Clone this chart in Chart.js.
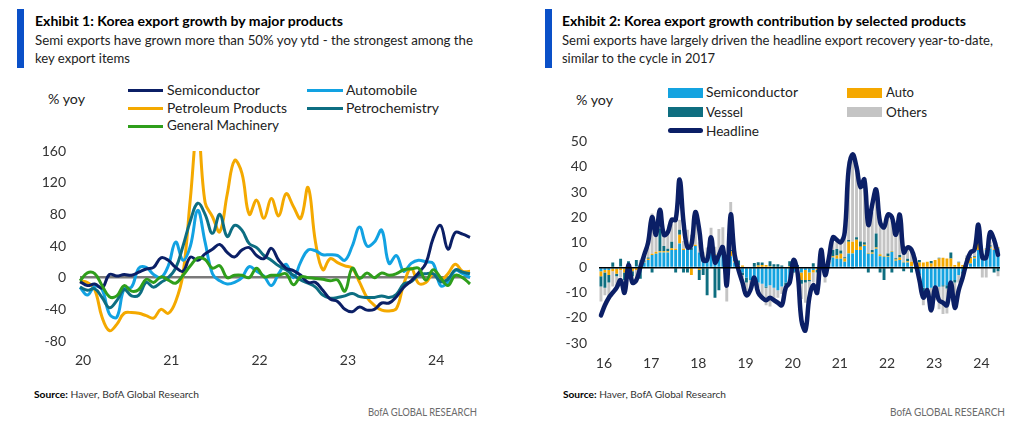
<!DOCTYPE html>
<html><head><meta charset="utf-8">
<script src="https://cdn.jsdelivr.net/npm/chart.js@4.4.1/dist/chart.umd.min.js"></script>
<style>
html,body{margin:0;padding:0;background:#fff;}
body{width:1024px;height:426px;position:relative;overflow:hidden;font-family:Lato,'Open Sans',sans-serif;color:#222;}
.a{position:absolute;white-space:nowrap;line-height:1;}
.fit{display:inline-block;transform-origin:0 50%;}
.bar{position:absolute;background:#0A50C8;}
.ln{position:absolute;height:3px;width:35px;}
.bx{position:absolute;height:10px;width:35px;}
canvas{position:absolute;}
</style></head><body>

<div class="bar" style="left:17px;top:9px;width:7px;height:59px"></div>
<div class="a" style="left:35px;top:15px;font-size:13px;font-weight:700;color:#000"><span class="fit" data-w="308">Exhibit 1: Korea export growth by major products</span></div>
<div class="a" style="left:35px;top:33.6px;font-size:13.5px"><span class="fit" data-w="438">Semi exports have grown more than 50% yoy ytd - the strongest among the</span></div>
<div class="a" style="left:35px;top:51.6px;font-size:13.5px"><span class="fit" data-w="95">key export items</span></div>
<div class="a" style="left:48px;top:91.6px;font-size:14px"><span class="fit" data-w="37">% yoy</span></div>
<div class="ln" style="left:128px;top:88.5px;background:#0B1F66"></div>
<div class="a" style="left:167px;top:82.6px;font-size:14px"><span class="fit" data-w="93">Semiconductor</span></div>
<div class="ln" style="left:128px;top:106.5px;background:#F4A900"></div>
<div class="a" style="left:167px;top:100.9px;font-size:14px"><span class="fit" data-w="120">Petroleum Products</span></div>
<div class="ln" style="left:128px;top:124.5px;background:#2F9E1B"></div>
<div class="a" style="left:167px;top:118.3px;font-size:14px"><span class="fit" data-w="112">General Machinery</span></div>
<div class="ln" style="left:307px;top:88.5px;width:36px;background:#12A2E2"></div>
<div class="a" style="left:346px;top:82.6px;font-size:14px"><span class="fit" data-w="71">Automobile</span></div>
<div class="ln" style="left:307px;top:106.5px;width:36px;background:#0D6E82"></div>
<div class="a" style="left:346px;top:100.9px;font-size:14px"><span class="fit" data-w="93">Petrochemistry</span></div>

<div class="bar" style="left:545px;top:9px;width:7px;height:59px"></div>
<div class="a" style="left:562px;top:15px;font-size:13px;font-weight:700;color:#000"><span class="fit" data-w="404">Exhibit 2: Korea export growth contribution by selected products</span></div>
<div class="a" style="left:562px;top:33.6px;font-size:13.5px"><span class="fit" data-w="431">Semi exports have largely driven the headline export recovery year-to-date,</span></div>
<div class="a" style="left:562px;top:51.6px;font-size:13.5px"><span class="fit" data-w="153">similar to the cycle in 2017</span></div>
<div class="a" style="left:576px;top:92.6px;font-size:14px"><span class="fit" data-w="37">% yoy</span></div>
<div class="bx" style="left:668px;top:87.5px;background:#14A3E0"></div>
<div class="a" style="left:706px;top:85.1px;font-size:14px"><span class="fit" data-w="92">Semiconductor</span></div>
<div class="bx" style="left:668px;top:107.3px;background:#0E6E80"></div>
<div class="a" style="left:706px;top:104.9px;font-size:14px"><span class="fit" data-w="37">Vessel</span></div>
<div class="ln" style="left:668px;top:127.5px;height:5px;border-radius:2.5px;background:#0B1F66"></div>
<div class="a" style="left:706px;top:123.6px;font-size:14px"><span class="fit" data-w="53">Headline</span></div>
<div class="bx" style="left:847px;top:87.5px;background:#F5A800"></div>
<div class="a" style="left:886px;top:85.1px;font-size:14px"><span class="fit" data-w="28">Auto</span></div>
<div class="bx" style="left:847px;top:107.3px;background:#C4C4C4"></div>
<div class="a" style="left:886px;top:104.9px;font-size:14px"><span class="fit" data-w="41">Others</span></div>

<div class="a" style="left:34px;top:390px;font-size:9.5px;color:#333"><span class="fit" data-w="165"><b style="color:#000">Source:</b> Haver, BofA Global Research</span></div>
<div class="a" style="left:368px;top:407px;font-size:10.5px;color:#6b6b6b"><span class="fit" data-w="109">BofA GLOBAL RESEARCH</span></div>
<div class="a" style="left:563px;top:390px;font-size:9.5px;color:#333"><span class="fit" data-w="163"><b style="color:#000">Source:</b> Haver, BofA Global Research</span></div>
<div class="a" style="left:890px;top:407px;font-size:10.5px;color:#6b6b6b"><span class="fit" data-w="115">BofA GLOBAL RESEARCH</span></div>

<canvas id="cL" width="500" height="231" style="left:0;top:140px;width:500px;height:231px"></canvas>
<canvas id="cR" width="500" height="243" style="left:520px;top:130px;width:500px;height:243px"></canvas>

<script>
// ---------- Exhibit 1 data (monthly, % yoy) ----------
const monthsL = ['20-01','20-02','20-03','20-04','20-05','20-06','20-07','20-08','20-09','20-10','20-11','20-12',
'21-01','21-02','21-03','21-04','21-05','21-06','21-07','21-08','21-09','21-10','21-11','21-12',
'22-01','22-02','22-03','22-04','22-05','22-06','22-07','22-08','22-09','22-10','22-11','22-12',
'23-01','23-02','23-03','23-04','23-05','23-06','23-07','23-08','23-09','23-10','23-11','23-12',
'24-01','24-02','24-03','24-04','24-05','24-06'];
const semiconductor = [-5,-10,-8,-13,4,2,4,3,7,11,13,25,22,13,8,26,22,30,36,42,32,26,35,38,28,24,37,22,12,9,3,-6,-6,-16,-27,-30,-40,-43,-37,-41,-40,-32,-32,-24,-12,-4,6,18,50,66,36,57,55,51];
const automobile = [-12,-22,-11,-15,-46,-50,-14,-12,12,13,4,0,15,45,22,40,85,45,5,-4,-8,-6,0,14,8,2,-10,5,17,0,20,35,34,29,29,28,22,40,64,40,45,60,18,28,8,18,22,20,18,-10,-6,9,5,0];
const petroleum = [-4,-6,-15,-50,-67,-59,-45,-44,-45,-48,-51,-40,-45,-30,5,100,190,95,77,58,105,148,132,80,98,75,100,78,106,90,75,114,45,10,24,19,15,12,-6,-25,-35,-41,-42,-39,-8,12,-7,-6,5,-3,5,17,8,8];
const petrochemistry = [-12,-16,-14,-25,-38,-29,-15,-23,-22,-6,-12,-6,0,12,40,72,94,80,56,80,52,66,60,43,38,28,22,15,10,3,-3,-7,-12,-22,-26,-25,-23,-20,-24,-25,-25,-23,-25,-21,-8,-5,3,5,5,-5,-2,10,7,5];
const machinery = [-4,6,5,-10,-24,-23,-10,-17,-15,-2,-6,1,-3,-7,3,15,25,23,12,15,0,3,3,0,12,1,3,3,5,-9,1,0,-1,-2,-4,-3,-17,12,-1,6,0,6,3,5,10,11,12,-3,10,0,-10,3,0,-8];
const yTicksL = [-80,-40,0,40,80,120,160];

// ---------- Exhibit 2 data (monthly, ppt contribution / % yoy) ----------
const monthsR = ['16-01','16-02','16-03','16-04','16-05','16-06','16-07','16-08','16-09','16-10','16-11','16-12',
'17-01','17-02','17-03','17-04','17-05','17-06','17-07','17-08','17-09','17-10','17-11','17-12',
'18-01','18-02','18-03','18-04','18-05','18-06','18-07','18-08','18-09','18-10','18-11','18-12',
'19-01','19-02','19-03','19-04','19-05','19-06','19-07','19-08','19-09','19-10','19-11','19-12',
'20-01','20-02','20-03','20-04','20-05','20-06','20-07','20-08','20-09','20-10','20-11','20-12',
'21-01','21-02','21-03','21-04','21-05','21-06','21-07','21-08','21-09','21-10','21-11','21-12',
'22-01','22-02','22-03','22-04','22-05','22-06','22-07','22-08','22-09','22-10','22-11','22-12',
'23-01','23-02','23-03','23-04','23-05','23-06','23-07','23-08','23-09','23-10','23-11','23-12',
'24-01','24-02','24-03','24-04','24-05','24-06'];
const semiContrib = [-1.5,-1,-1,-0.5,-0.5,0.5,-0.5,0.5,0.3,0.5,1,2,
3,5,5.5,6,6,6,7,7,9.5,7,7.5,7,
8.5,6,4,3,6,5,5,5,3,4.5,2,0.5,
-2,-4,-5,-5,-6,-6.5,-7.5,-7,-8,-9,-7.5,-6,
-4.5,-1.5,-1,-2,-1,-2,-1,-0.5,0.5,0.3,1.5,4,
3.5,3.5,2.3,5.6,5.6,7,7,8.5,5.5,5.5,7.5,4.5,
4.3,4.3,6.3,2.7,3,2,2,0.5,-0.5,-3,-8,-8.5,
-8,-8,-7.6,-7,-7,-7,-5,-3,-1.5,3,1.6,3.6,
7,3.6,7,7.6,7,7.6];
const autoContrib = [-2,-1,-2,-1,-2,-1,-1.5,-0.5,-1.5,-1,-0.5,0.3,
0.5,0.5,0.8,0.5,0.5,0.5,0.7,0.5,3.5,0.5,0.5,-3,
0.5,-1,0.3,0,0.3,0.3,0.3,0,-0.5,2,0.5,0.3,
0.8,0.3,0.3,0.3,0.8,1,1,0.5,0.3,0.3,0.3,0.3,
0.5,0.3,-0.5,-3,-4,-3,-1,-0.5,0.5,0.3,0.5,0.5,
1.3,2,1.3,4.6,4.6,4,1.3,0.5,0.3,0.5,0.5,0.8,
0.3,0.3,0.3,0.5,1,0.3,0.5,1.8,2,2,2,2.3,
1.6,3,3.6,3.9,3.6,3.6,1,2,1,0.5,2.2,0.6,
2.6,0.3,0.3,0.7,0.3,0.5];
const vesselContrib = [-4,-6,-3,2,-1,3,-3,2,-2,2.5,-4,0.5,
0.5,-2,0,9,2,1,2.5,-2,2,-2,-2,1,
0,-4,-3,-11,0.5,-12,-9,1,-3,0.5,2,2,
-1,-2,0,1.5,1.3,1,-0.5,2,1,1,0.5,-1,
2,-0.5,1,-1.5,-1,-0.5,1.7,-1,1.5,-2,0.5,2.5,
2.6,1.3,0.5,0.7,-0.5,1,2,1,-2,1,5.5,-2,
-5,1,-2,0.5,1,-1.5,1,-2,1,1,-2,-0.5,
1,-1,0.3,-0.5,-1.3,2.4,-1,0.3,-1,0.3,0.3,0.3,
0.6,0.3,0.3,0.5,-2,-1.5];
const othersContrib = [-6,-3,-6,-6,-4,-3,-5,-1,-2,-3,2,2,
4,16,8,5,6,6,7,12,4,3,7,5,
12,4,2,5,9,3,10,10,-10,19,2,-1,
-1,-3,-3,-1,-2,-6,-7,-8.5,-6,-3,-3,-2,
-2,3,-1,-6,-8,-5,-4,-5,2,-4,1,3,
4,3,8,28,34,27,22,22,12,15,17,12,
12,15,12,9,14,4,4,5,1,-2,-5,-3,
-10,-4,-9,-11,-10,-4,-7,-3,-1,1,2,3,
1,-4,-4,1.5,2,-2];
const headline = [-19,-15,-12,-10,-8,-5,-10,1,-6,-5,0,5,
10,20,13,23,13,14,19,19,35,18,8,9,
22,15,3,3,12,2,5,8,-7,21,5,-1,
-6,-11,-9,-4,-10,-12,-13,-12,-13,-14,-15,-8,
-6,3,-2,-21,-25,-12,-7,-10,7,-3,4,12,
11,10,14,39,45,40,32,35,17,25,31,18,
16,21,20,13,21,6,8,7,2,-5,-12,-9,
-17,-8,-13,-14,-15,-6,-16,-9,-4,2,6,7,
17,4,4,14,11,5];

// ---------- text fitting ----------
document.querySelectorAll('.fit').forEach(function(el){
  var w = el.getBoundingClientRect().width, t = +el.dataset.w;
  if (w > 0) el.style.transform = 'scaleX(' + (t / w) + ')';
});

Chart.defaults.font.family = 'Lato, "Open Sans", sans-serif';
Chart.defaults.color = '#333';

function janOnly(scale){
  const labels = scale.chart.data.labels;
  scale.ticks = scale.ticks.filter(t => String(labels[t.value]).endsWith('-01'));
}
function fixY(w){
  return s => { s.width = w; s.paddingTop = 0; s.paddingBottom = 0; };
}
const tickFont = {size: 14};

function lineDs(label, data, color, order){
  return {label, data, borderColor: color, backgroundColor: color, borderWidth: 3,
    pointRadius: 0, tension: 0.4, order, fill: false};
}

new Chart(document.getElementById('cL'), {
  type: 'line',
  data: {
    labels: monthsL,
    datasets: [
      lineDs('Semiconductor', semiconductor, '#0B1F66', 2),
      lineDs('Automobile', automobile, '#12A2E2', 4),
      lineDs('Petroleum Products', petroleum, '#F4A900', 5),
      lineDs('Petrochemistry', petrochemistry, '#0D6E82', 3),
      lineDs('General Machinery', machinery, '#2F9E1B', 1)
    ]
  },
  options: {
    responsive: false, animation: false,
    layout: {padding: {top: 11, right: 30, bottom: 0, left: 0}},
    plugins: {legend: {display: false}, tooltip: {enabled: false}},
    scales: {
      x: {
        type: 'category', offset: false,
        grid: {display: false, drawTicks: false}, border: {display: false},
        afterBuildTicks: janOnly,
        afterFit: s => { s.height = 30; },
        ticks: {autoSkip: false, maxRotation: 0, minRotation: 0, padding: 11, labelOffset: 3, font: tickFont,
          callback: function(v){ return String(this.getLabelForValue(v)).slice(0, 2); }}
      },
      y: {
        min: yTicksL[0], max: yTicksL[yTicksL.length - 1],
        afterBuildTicks: s => { s.ticks = yTicksL.map(v => ({value: v})); },
        afterFit: fixY(80),
        border: {display: false},
        grid: {drawTicks: false,
          color: c => (c.tick && c.tick.value === 0) ? '#7a7a7a' : 'rgba(0,0,0,0)',
          lineWidth: c => (c.tick && c.tick.value === 0) ? 2.5 : 0},
        ticks: {padding: 14, font: tickFont}
      }
    }
  }
});

function barDs(label, data, color){
  return {type: 'bar', label, data, backgroundColor: color, borderWidth: 0,
    barPercentage: 0.74, categoryPercentage: 1.0, order: 2, stack: 'contrib'};
}

new Chart(document.getElementById('cR'), {
  type: 'bar',
  data: {
    labels: monthsR,
    datasets: [
      barDs('Semiconductor', semiContrib, '#14A3E0'),
      barDs('Auto', autoContrib, '#F5A800'),
      barDs('Vessel', vesselContrib, '#0E6E80'),
      barDs('Others', othersContrib, '#C4C4C4'),
      {type: 'line', label: 'Headline', data: headline, borderColor: '#0B1F66', backgroundColor: '#0B1F66',
        borderWidth: 4.5, pointRadius: 0, tension: 0.4, order: 1, stack: 'headline', fill: false,
        borderCapStyle: 'round', borderJoinStyle: 'round'}
    ]
  },
  options: {
    responsive: false, animation: false,
    layout: {padding: {top: 11.7, right: 20, bottom: 0, left: 0}},
    plugins: {legend: {display: false}, tooltip: {enabled: false}},
    scales: {
      x: {
        stacked: true, offset: true,
        grid: {display: false, drawTicks: false}, border: {display: false},
        afterBuildTicks: janOnly,
        afterFit: s => { s.height = 30; },
        ticks: {autoSkip: false, maxRotation: 0, minRotation: 0, padding: 12, labelOffset: 3, font: tickFont,
          callback: function(v){ return String(this.getLabelForValue(v)).slice(0, 2); }}
      },
      y: {
        stacked: true, min: -30, max: 50,
        afterFit: fixY(79),
        border: {display: false},
        grid: {drawTicks: false, z: 1,
          color: c => (c.tick && c.tick.value === 0) ? '#000' : 'rgba(0,0,0,0)',
          lineWidth: c => (c.tick && c.tick.value === 0) ? 1.6 : 0},
        ticks: {stepSize: 10, padding: 12, font: tickFont}
      }
    }
  }
});
</script>
</body></html>
